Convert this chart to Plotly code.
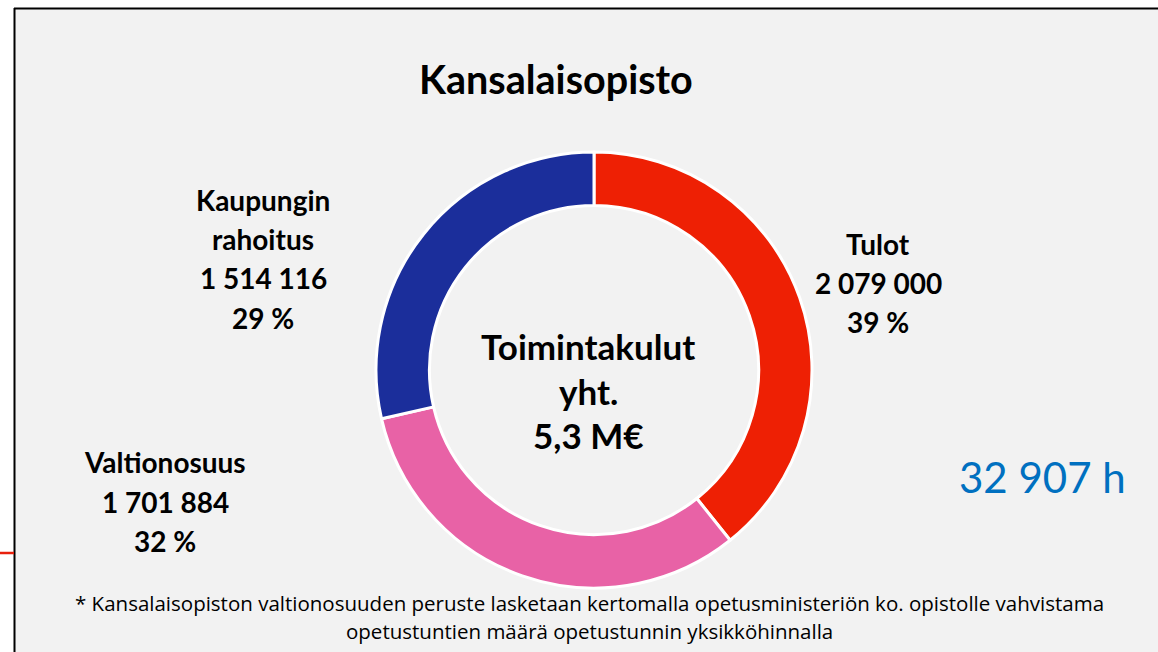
import plotly.graph_objects as go

# ---------------- data ----------------
labels = ["Tulot", "Valtionosuus", "Kaupungin rahoitus"]
label_lines = [["Tulot"], ["Valtionosuus"], ["Kaupungin", "rahoitus"]]
values = [2079000, 1701884, 1514116]
colors = ["#EE2004", "#E862A6", "#1B2E9B"]
title_text = "Kansalaisopisto"
center_lines = ["Toimintakulut", "yht."]
hours_text = "32 907 h"
footnote_lines = [
    "* Kansalaisopiston valtionosuuden peruste lasketaan kertomalla opetusministeriön ko. opistolle vahvistama",
    "opetustuntien määrä opetustunnin yksikköhinnalla",
]

W, H = 1158, 652
FONT = "Lato"
FOOT_FONT = "Open Sans"


def px(x):
    return x / W


def py(y):
    return 1 - y / H


total = sum(values)
fmt = lambda v: f"{v:,}".replace(",", " ")
pcts = [round(v / total * 100) for v in values]

fig = go.Figure()

# donut geometry (pixels)
cx, cy, r = 594, 370, 218
fig.add_trace(go.Pie(
    labels=labels, values=values, sort=False, direction="clockwise", rotation=0,
    hole=0.755, marker=dict(colors=colors, line=dict(color="white", width=3)),
    textinfo="none", hoverinfo="label+value+percent", showlegend=False,
    domain=dict(x=[px(cx - r), px(cx + r)], y=[py(cy + r), py(cy - r)]),
))

annotations = []


def add_line(text, x, baseline, size, bold=True, color="black", family=FONT):
    annotations.append(dict(
        text=f"<b>{text}</b>" if bold else text, x=px(x), y=py(baseline - 0.34 * size),
        xref="paper", yref="paper", xanchor="center", yanchor="middle",
        showarrow=False, font=dict(family=family, size=size, color=color),
    ))


# title
add_line(title_text, 556, 92, 39.5)

# slice label blocks: (center x, first baseline, line spacing)
block_pos = [(878, 253.5, 38.8), (165, 472, 39.2), (263, 209.5, 39.2)]
for lines, v, p, (bx, by, dy) in zip(label_lines, values, pcts, block_pos):
    all_lines = lines + [fmt(v), f"{p} %"]
    for i, t in enumerate(all_lines):
        add_line(t, bx, by + i * dy, 28)

# center text
center_all = center_lines + [f"{total / 1e6:.1f}".replace(".", ",") + " M€"]
for i, t in enumerate(center_all):
    add_line(t, 588, 358 + i * 44.5, 35)

# hours
add_line(hours_text, 1042, 491.7, 42, bold=False, color="#0070C0")

# footnote
for i, t in enumerate(footnote_lines):
    add_line(t, 589, 610 + i * 27.5, 20.5, bold=False, family=FOOT_FONT)

shapes = [
    dict(type="rect", xref="paper", yref="paper", x0=px(15), x1=1.01, y0=-0.01, y1=py(9),
         fillcolor="#F2F2F2", line=dict(width=0), layer="below"),
    dict(type="line", xref="paper", yref="paper", x0=px(14), x1=1.01, y0=py(8.5), y1=py(8.5),
         line=dict(color="black", width=2)),
    dict(type="line", xref="paper", yref="paper", x0=px(14.5), x1=px(14.5), y0=-0.01, y1=py(8),
         line=dict(color="black", width=2)),
    dict(type="line", xref="paper", yref="paper", x0=0, x1=px(14), y0=py(553), y1=py(553),
         line=dict(color="#E8200C", width=2.5)),
]

fig.update_layout(
    width=W, height=H, margin=dict(l=0, r=0, t=0, b=0),
    paper_bgcolor="white", plot_bgcolor="white",
    annotations=annotations, shapes=shapes,
)

fig.write_html(
    "out.html",
    config={"displayModeBar": False},
    post_script="document.body.style.margin='0';document.body.style.overflow='hidden';",
)
